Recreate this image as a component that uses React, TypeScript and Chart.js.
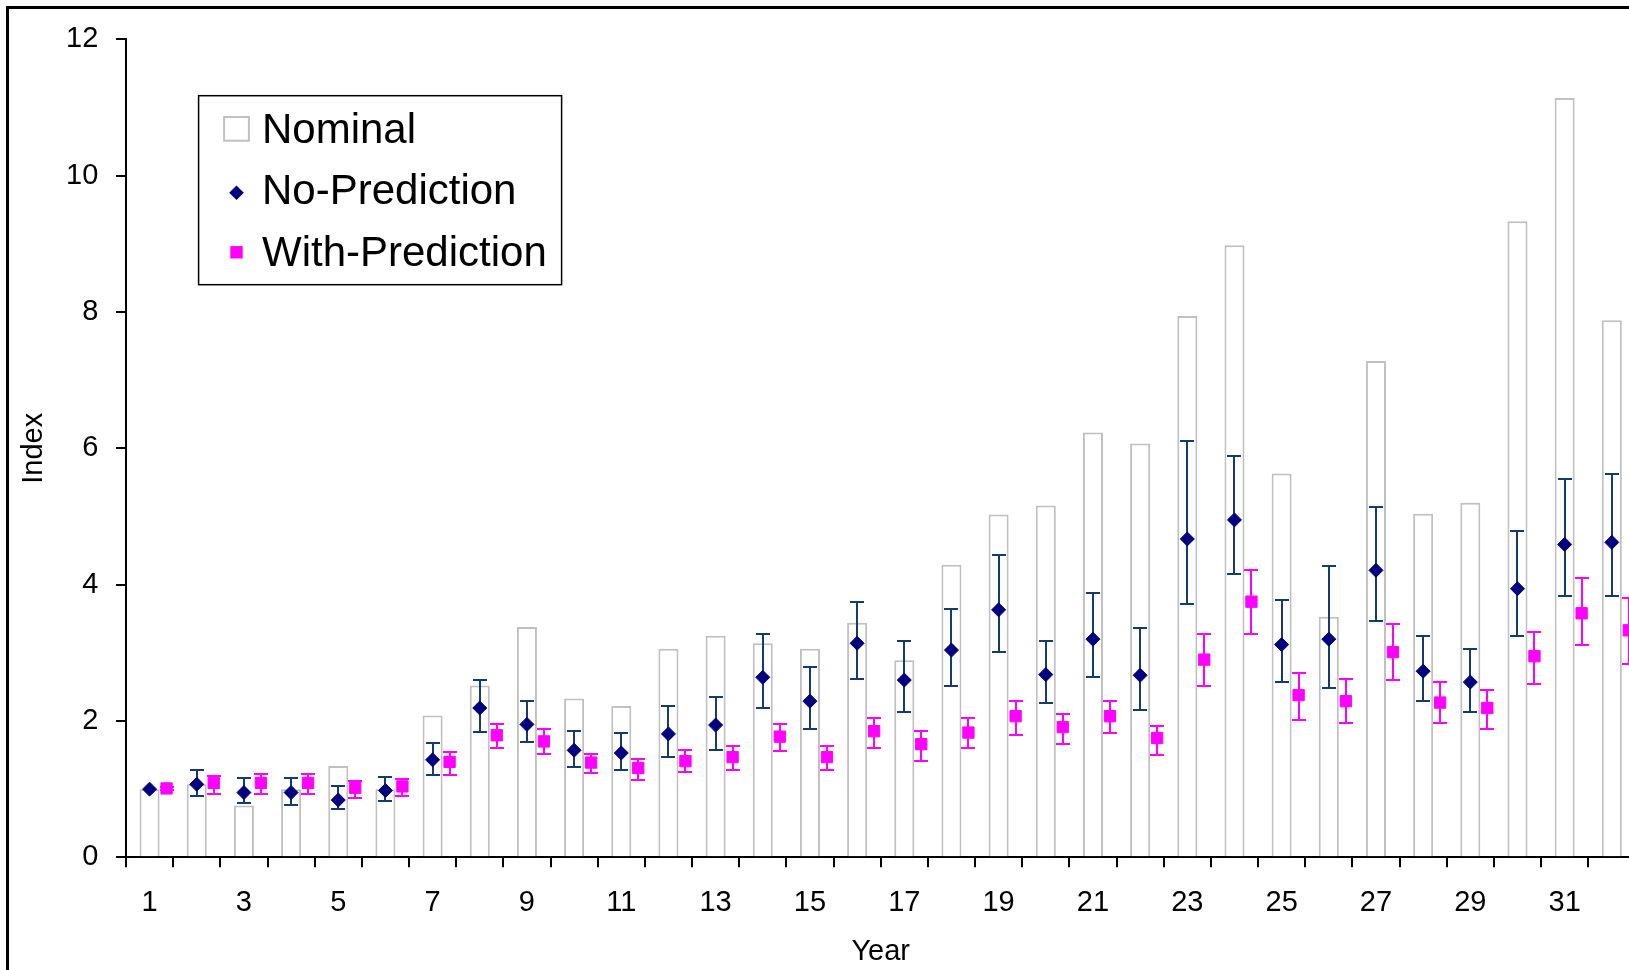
import React, { useEffect, useRef } from 'react';
import { Chart, registerables } from 'chart.js';

Chart.register(...registerables);

// ---------------- data ----------------
const years = ['1', '2', '3', '4', '5', '6', '7', '8', '9', '10', '11', '12', '13', '14', '15', '16',
  '17', '18', '19', '20', '21', '22', '23', '24', '25', '26', '27', '28', '29', '30', '31', '32'];

const nominal = [1.0, 1.07, 0.76, 1.0, 1.34, 1.0, 2.08, 2.52, 3.38, 2.33, 2.22, 3.06, 3.25, 3.14, 3.06, 3.44,
  2.89, 4.29, 5.03, 5.16, 6.23, 6.07, 7.94, 8.98, 5.63, 3.53, 7.28, 5.04, 5.2, 9.33, 11.14, 7.88];

const noPrediction = [1.0, 1.07, 0.95, 0.95, 0.84, 0.98, 1.43, 2.19, 1.95, 1.57, 1.53, 1.81, 1.94, 2.64, 2.29, 3.14,
  2.6, 3.04, 3.63, 2.68, 3.2, 2.67, 4.67, 4.95, 3.12, 3.2, 4.21, 2.73, 2.57, 3.94, 4.59, 4.62];
const noPredictionHigh = [1.0, 1.28, 1.17, 1.17, 1.04, 1.18, 1.67, 2.6, 2.3, 1.86, 1.83, 2.22, 2.35, 3.28, 2.79, 3.74,
  3.17, 3.64, 4.43, 3.17, 3.88, 3.36, 6.1, 5.88, 3.77, 4.27, 5.14, 3.25, 3.06, 4.78, 5.55, 5.63];
const noPredictionLow = [1.0, 0.9, 0.79, 0.77, 0.71, 0.82, 1.21, 1.84, 1.69, 1.32, 1.28, 1.47, 1.58, 2.19, 1.88, 2.62,
  2.13, 2.51, 3.01, 2.27, 2.65, 2.16, 3.71, 4.15, 2.57, 2.48, 3.47, 2.29, 2.13, 3.25, 3.83, 3.83];

const withPrediction = [1.01, 1.09, 1.09, 1.09, 1.02, 1.04, 1.4, 1.79, 1.7, 1.39, 1.31, 1.41, 1.47, 1.77, 1.47, 1.85,
  1.66, 1.83, 2.07, 1.91, 2.07, 1.75, 2.9, 3.75, 2.38, 2.29, 3.01, 2.27, 2.19, 2.95, 3.58, 3.33];
const withPredictionHigh = [1.03, 1.2, 1.22, 1.22, 1.12, 1.15, 1.54, 1.95, 1.88, 1.52, 1.44, 1.58, 1.63, 1.96, 1.63, 2.04,
  1.85, 2.04, 2.29, 2.1, 2.29, 1.93, 3.28, 4.21, 2.7, 2.62, 3.42, 2.57, 2.46, 3.3, 4.1, 3.8];
const withPredictionLow = [0.98, 0.93, 0.93, 0.93, 0.87, 0.9, 1.21, 1.6, 1.51, 1.23, 1.14, 1.25, 1.28, 1.56, 1.28, 1.61,
  1.42, 1.61, 1.8, 1.66, 1.82, 1.5, 2.51, 3.28, 2.02, 1.97, 2.6, 1.97, 1.88, 2.54, 3.12, 2.84];

const yTicks = [0, 2, 4, 6, 8, 10, 12];

// ---------------- styling ----------------
const FONT = '"Liberation Sans", Arial, Helvetica, sans-serif';
const NAVY = '#000080';
const NAVY_ERR = '#133c6a';
const PINK = '#ff00ff';
const GRAY = '#c0c0c0';
const PINK_SHIFT = 0.36;

const CANVAS_W = 1640;
const CANVAS_H = 1000;

const errorBarPlugin = {
  id: 'errorBars',
  beforeDatasetDraw(chart: any, args: any) {
    const ds: any = chart.data.datasets[args.index];
    if (!ds.errLow || !ds.errHigh) return;
    const y = chart.scales.y;
    const ctx = chart.ctx;
    ctx.save();
    ctx.strokeStyle = ds.errColor;
    ctx.lineWidth = 2;
    args.meta.data.forEach((pt: any, i: number) => {
      const lo = ds.errLow[i];
      const hi = ds.errHigh[i];
      if (hi - lo < 1e-9) return;
      const x = Math.round(pt.x);
      const yl = Math.round(y.getPixelForValue(lo));
      const yh = Math.round(y.getPixelForValue(hi));
      const cap = 7;
      ctx.beginPath();
      ctx.moveTo(x, yl);
      ctx.lineTo(x, yh);
      ctx.moveTo(x - cap, yl);
      ctx.lineTo(x + cap, yl);
      ctx.moveTo(x - cap, yh);
      ctx.lineTo(x + cap, yh);
      ctx.stroke();
    });
    ctx.restore();
  },
};

const boxLegendPlugin = {
  id: 'boxLegend',
  afterDraw(chart: any) {
    const { ctx, chartArea: a } = chart;
    const ds: any[] = chart.data.datasets;
    const bx = a.left + 72.6;
    const by = a.top + 56.4;
    const bw = 363;
    const bh = 189;
    ctx.save();
    ctx.fillStyle = '#fff';
    ctx.fillRect(bx, by, bw, bh);
    ctx.lineWidth = 1.5;
    ctx.strokeStyle = '#000';
    ctx.strokeRect(bx, by, bw, bh);

    const cx = bx + 37.9;
    // Nominal swatch
    ctx.fillStyle = '#fff';
    ctx.fillRect(cx - 13.4, by + 20.3, 26.8, 25.7);
    ctx.strokeStyle = ds[0].borderColor;
    ctx.lineWidth = 2;
    ctx.strokeRect(cx - 12.4, by + 21.3, 24.8, 23.7);

    // diamond
    const dy = by + 97;
    const r = 7.3;
    ctx.fillStyle = ds[1].backgroundColor;
    ctx.beginPath();
    ctx.moveTo(cx - r, dy);
    ctx.lineTo(cx, dy - r);
    ctx.lineTo(cx + r, dy);
    ctx.lineTo(cx, dy + r);
    ctx.closePath();
    ctx.fill();

    // square
    const sy = by + 156.6;
    const s = 6.2;
    ctx.fillStyle = ds[2].backgroundColor;
    ctx.fillRect(cx - s, sy - s, 2 * s, 2 * s);

    ctx.fillStyle = '#000';
    ctx.font = `42px ${FONT}`;
    ctx.textBaseline = 'alphabetic';
    ctx.textAlign = 'left';
    ctx.fillText(ds[0].label, bx + 63.4, by + 47);
    ctx.fillText(ds[1].label, bx + 63.4, by + 108.6);
    ctx.fillText(ds[2].label, bx + 63.4, by + 170.6);
    ctx.restore();
  },
};

export default function App() {
  const canvasRef = useRef<HTMLCanvasElement | null>(null);

  useEffect(() => {
    if (!canvasRef.current) return;
    Chart.defaults.font.family = FONT;
    Chart.defaults.color = '#000';

    const chart = new Chart(canvasRef.current, {
      type: 'bar',
      data: {
        labels: years,
        datasets: [
          {
            type: 'bar',
            label: 'Nominal',
            data: nominal.map((v, i) => ({ x: i + 1, y: v })),
            backgroundColor: '#ffffff',
            borderColor: GRAY,
            borderWidth: 2,
            barPercentage: 0.425,
            categoryPercentage: 1,
            xAxisID: 'x',
            yAxisID: 'y',
            order: 3,
          } as any,
          {
            type: 'line',
            label: 'No-Prediction',
            data: noPrediction.map((v, i) => ({ x: i + 1, y: v })),
            showLine: false,
            pointStyle: 'rectRot',
            pointRadius: 7,
            pointBorderWidth: 1,
            backgroundColor: NAVY,
            borderColor: NAVY,
            xAxisID: 'x',
            yAxisID: 'y',
            order: 1,
            errLow: noPredictionLow,
            errHigh: noPredictionHigh,
            errColor: NAVY_ERR,
          } as any,
          {
            type: 'line',
            label: 'With-Prediction',
            data: withPrediction.map((v, i) => ({ x: i + 1 + PINK_SHIFT, y: v })),
            showLine: false,
            pointStyle: 'rect',
            pointRadius: 8,
            pointBorderWidth: 1,
            backgroundColor: PINK,
            borderColor: PINK,
            xAxisID: 'x',
            yAxisID: 'y',
            order: 0,
            errLow: withPredictionLow,
            errHigh: withPredictionHigh,
            errColor: PINK,
          } as any,
        ],
      },
      options: {
        responsive: false,
        animation: false,
        events: [],
        layout: { padding: { left: 0, top: 30.3, right: 13.6, bottom: 0 } },
        plugins: {
          legend: { display: false },
          tooltip: { enabled: false },
        },
        scales: {
          x: {
            type: 'linear',
            display: false,
            position: 'bottom',
            offset: false,
            min: 0.5,
            max: years.length + 0.5,
            grid: { offset: false },
            afterBuildTicks: (scale: any) => {
              scale.ticks = years.map((_, i) => ({ value: i + 1 }));
            },
            afterFit: (scale: any) => {
              scale.paddingLeft = 0;
              scale.paddingRight = 0;
            },
          },
          xc: {
            type: 'category',
            axis: 'x',
            position: 'bottom',
            offset: true,
            afterFit: (scale: any) => {
              scale.height = 151.7;
              scale.paddingLeft = 0;
              scale.paddingRight = 0;
            },
            grid: {
              display: true,
              offset: true,
              drawOnChartArea: false,
              drawTicks: true,
              tickLength: 10,
              color: '#000',
              lineWidth: 2,
            },
            border: { display: true, color: '#000', width: 2 },
            ticks: {
              autoSkip: false,
              maxRotation: 0,
              minRotation: 0,
              padding: 17.9,
              font: { size: 29, family: FONT },
              color: '#000',
              callback: function (this: any, value: any, index: number) {
                return index % 2 === 0 ? this.getLabelForValue(value) : '';
              },
            },
            title: {
              display: true,
              text: 'Year',
              font: { size: 29, family: FONT },
              color: '#000',
              padding: { top: 0, bottom: 39.6 },
            },
          } as any,
          y: {
            type: 'linear',
            position: 'left',
            min: yTicks[0],
            max: yTicks[yTicks.length - 1],
            afterFit: (scale: any) => {
              scale.width = 117;
              scale.paddingTop = 0;
              scale.paddingBottom = 0;
            },
            afterBuildTicks: (scale: any) => {
              scale.ticks = yTicks.map((v) => ({ value: v }));
            },
            grid: {
              display: true,
              drawOnChartArea: false,
              drawTicks: true,
              tickLength: 10,
              color: '#000',
              lineWidth: 2,
            },
            border: { display: true, color: '#000', width: 2 },
            ticks: {
              padding: 17.7,
              font: { size: 29, family: FONT },
              color: '#000',
            },
            title: {
              display: true,
              text: 'Index',
              font: { size: 29, family: FONT },
              color: '#000',
              padding: { top: 7.4, bottom: 10 },
            },
          },
        },
      },
      plugins: [errorBarPlugin, boxLegendPlugin],
    });

    return () => {
      chart.destroy();
    };
  }, []);

  return (
    <div
      style={{
        position: 'fixed',
        left: 0,
        top: 0,
        width: '100vw',
        height: '100vh',
        overflow: 'hidden',
        background: '#fff',
      }}
    >
      <div
        style={{
          position: 'absolute',
          left: 6,
          top: 6,
          width: CANVAS_W,
          height: CANVAS_H,
          border: '3px solid #000',
          background: '#fff',
        }}
      >
        <canvas
          ref={canvasRef}
          width={CANVAS_W}
          height={CANVAS_H}
          style={{ display: 'block', width: CANVAS_W, height: CANVAS_H }}
        />
      </div>
    </div>
  );
}
